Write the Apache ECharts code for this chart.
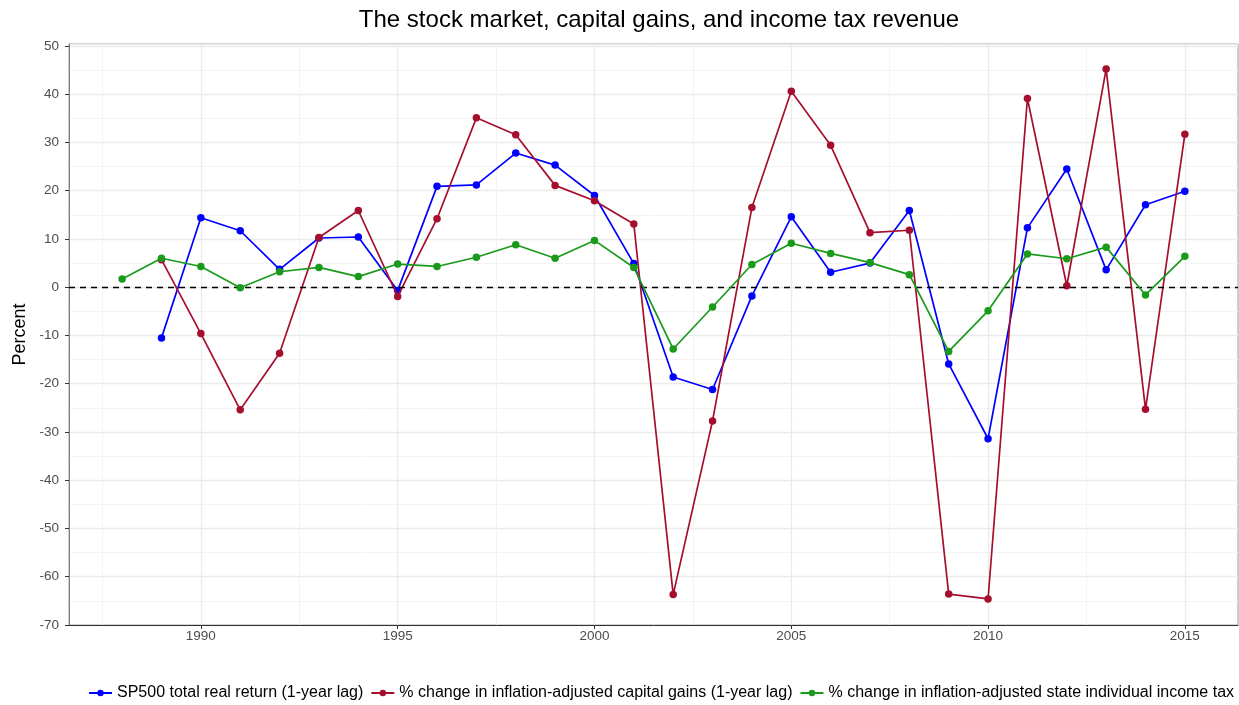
<!DOCTYPE html>
<html>
<head>
<meta charset="utf-8">
<title>The stock market, capital gains, and income tax revenue</title>
<script src="https://cdn.jsdelivr.net/npm/echarts@6/dist/echarts.min.js"></script>
<style>
  html, body { margin: 0; padding: 0; background: #fff; }
  #main { width: 1239px; height: 705px; }
</style>
</head>
<body>
<div id="main"></div>
<script>
// values
const years = [1988, 1989, 1990, 1991, 1992, 1993, 1994, 1995, 1996, 1997, 1998, 1999, 2000, 2001,
  2002, 2003, 2004, 2005, 2006, 2007, 2008, 2009, 2010, 2011, 2012, 2013, 2014, 2015];

// null for 1988 where the series has no point
const sp500 = [null, -10.5, 14.4, 11.7, 3.7, 10.2, 10.4, -0.7, 20.9, 21.2, 27.8, 25.3, 19.0, 4.9,
  -18.6, -21.2, -1.8, 14.6, 3.1, 5.0, 15.9, -15.9, -31.4, 12.3, 24.5, 3.6, 17.1, 19.9];
const capGains = [null, 5.7, -9.6, -25.4, -13.7, 10.3, 15.9, -1.9, 14.2, 35.1, 31.6, 21.1, 17.9, 13.1,
  -63.7, -27.7, 16.5, 40.6, 29.4, 11.3, 11.8, -63.6, -64.6, 39.1, 0.3, 45.2, -25.3, 31.7];
const incomeTax = [1.7, 6.0, 4.3, -0.1, 3.2, 4.1, 2.2, 4.8, 4.3, 6.2, 8.8, 6.0, 9.7, 4.1,
  -12.8, -4.1, 4.7, 9.1, 7.0, 5.1, 2.6, -13.3, -4.9, 6.9, 5.9, 8.3, -1.6, 6.4];

const seriesNames = [
  'SP500 total real return (1-year lag)',
  '% change in inflation-adjusted capital gains (1-year lag)',
  '% change in inflation-adjusted state individual income tax'
];
const seriesColors = ['#0000FF', '#A50F2D', '#1A9A1A'];

const xMajor = [1990, 1995, 2000, 2005, 2010, 2015];
const xMinor = [1987.5, 1992.5, 1997.5, 2002.5, 2007.5, 2012.5];

const chart = echarts.init(document.getElementById('main'));

function pairs(vals) {
  return years.map(function (y, i) { return [y, vals[i]]; }).filter(function (p) { return p[1] !== null; });
}

function lineSeries(name, vals, color, z) {
  return {
    name: name,
    type: 'line',
    data: pairs(vals),
    symbol: 'circle',
    symbolSize: 7.5,
    z: z,
    itemStyle: { color: color },
    lineStyle: { color: color, width: 1.7 },
    emphasis: { disabled: true },
    animation: false
  };
}

const font = 'Liberation Sans, Arial, sans-serif';

const option = {
  backgroundColor: '#fff',
  textStyle: { fontFamily: font },
  title: {
    text: 'The stock market, capital gains, and income tax revenue',
    left: 654,
    textAlign: 'center',
    top: 3,
    textStyle: { fontSize: 24, fontWeight: 'normal', color: '#000', fontFamily: font }
  },
  legend: {
    bottom: 4,
    left: 88,
    width: 1150,
    padding: 0,
    itemWidth: 23,
    itemHeight: 8,
    itemGap: 7,
    textStyle: { fontSize: 16, color: '#000', fontFamily: font },
    data: seriesNames
  },
  grid: {
    left: 69,
    right: 1,
    top: 44,
    bottom: 80,
    outerBoundsMode: 'none',
    containLabel: false,
    show: true,
    borderColor: '#9a9a9a',
    borderWidth: 1
  },
  xAxis: [{
    type: 'value',
    min: 1986.65,
    max: 2016.35,
    axisLine: { show: true, onZero: false, lineStyle: { color: '#333', width: 1 } },
    axisTick: { show: true, length: 4, customValues: xMajor, lineStyle: { color: '#333' } },
    axisLabel: {
      customValues: xMajor, color: '#4D4D4D', fontSize: 13.5, margin: 4, fontFamily: font,
      formatter: function (v) { return String(v); }
    },
    splitLine: { show: true, lineStyle: { color: '#EBEBEB', width: 1.3 } }
  }, {
    type: 'value',
    min: 1986.65,
    max: 2016.35,
    position: 'bottom',
    axisLine: { show: false },
    axisTick: { show: false, customValues: xMinor },
    axisLabel: { show: false, customValues: xMinor },
    splitLine: { show: true, lineStyle: { color: '#F3F3F3', width: 1 } }
  }],
  yAxis: {
    type: 'value',
    min: -70,
    max: 50.4,
    interval: 10,
    name: 'Percent',
    nameLocation: 'middle',
    nameGap: 39,
    nameTextStyle: { fontSize: 18, color: '#000', fontFamily: font },
    axisLine: { show: true, onZero: false, lineStyle: { color: '#7f7f7f', width: 1 } },
    axisTick: { show: true, length: 4, lineStyle: { color: '#333' } },
    axisLabel: {
      color: '#4D4D4D', fontSize: 13.5, margin: 10, fontFamily: font,
      showMaxLabel: false,
      formatter: function (v) { return (Math.round(v) === v) ? String(v) : ''; }
    },
    splitLine: { show: true, lineStyle: { color: '#EBEBEB', width: 1.3 } },
    minorTick: { show: false, splitNumber: 2 },
    minorSplitLine: { show: true, lineStyle: { color: '#F3F3F3', width: 1 } }
  },
  series: [
    Object.assign(lineSeries(seriesNames[0], sp500, seriesColors[0], 3), {
      markLine: {
        silent: true,
        symbol: 'none',
        label: { show: false },
        lineStyle: { color: '#000', type: [6, 5], width: 1.4 },
        data: [{ yAxis: 0 }]
      }
    }),
    lineSeries(seriesNames[1], capGains, seriesColors[1], 4),
    lineSeries(seriesNames[2], incomeTax, seriesColors[2], 5)
  ]
};

chart.setOption(option);
</script>
</body>
</html>
